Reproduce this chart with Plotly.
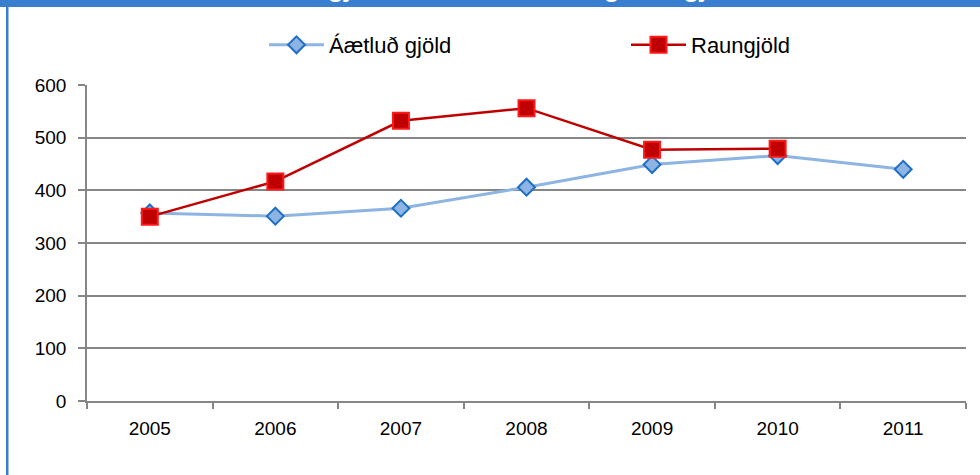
import plotly.graph_objects as go

years = ["2005", "2006", "2007", "2008", "2009", "2010", "2011"]
aaetlud = [357, 351, 366, 406, 449, 466, 440]
raun = [350, 417, 532, 556, 477, 479, None]
y_ticks = [0, 100, 200, 300, 400, 500, 600]
title_text = "Áætluð gjöld árin 2005–2011 og raungjöld"

FONT = "Liberation Sans"
GRID = "#868686"
FRAME = "#3A7FCF"

# plot area geometry (pixels)
L, R, T, B = 87, 14, 85, 74
W, H = 980, 475
PW, PH = W - L - R, H - T - B

def px_x(x):
    return (x - L) / PW

def px_y(y):
    return (H - B - y) / PH

fig = go.Figure()
fig.add_trace(go.Scatter(
    x=years, y=aaetlud, name="Áætluð gjöld", mode="lines+markers",
    line=dict(color="#8DB4E2", width=3),
    marker=dict(symbol="diamond", size=13, color="#8DB4E2",
                line=dict(color="#1F6FC6", width=2)),
    legend="legend", showlegend=True,
))
fig.add_trace(go.Scatter(
    x=years, y=raun, name="Raungjöld", mode="lines+markers",
    line=dict(color="#C00000", width=2.5),
    marker=dict(symbol="square", size=16, color="#C00000",
                line=dict(color="#FF1A1A", width=2)),
    legend="legend2", showlegend=True,
))

fig.update_xaxes(
    type="category", range=[-0.5, 6.5], tickson="boundaries",
    ticks="outside", ticklen=6, tickcolor=GRID, tickwidth=1.5,
    showgrid=False, showline=True, linecolor=GRID, linewidth=1.5,
    tickfont=dict(family=FONT, size=19, color="#000"),
    ticklabelstandoff=9,
)
fig.update_yaxes(
    range=[0, 600], tickvals=y_ticks, ticks="outside", ticklen=7,
    tickcolor=GRID, tickwidth=1.5,
    showgrid=True, gridcolor=GRID, gridwidth=1.5,
    showline=True, linecolor=GRID, linewidth=1.5, zeroline=False,
    tickfont=dict(family=FONT, size=19, color="#000"),
    ticklabelstandoff=8,
)

leg_common = dict(
    orientation="h", xanchor="left", yanchor="middle",
    font=dict(family=FONT, size=22, color="#000"),
    itemwidth=55, bgcolor="rgba(0,0,0,0)",
)

fig.update_layout(
    width=W, height=H,
    showlegend=True,
    margin=dict(l=L, r=R, t=T, b=B),
    plot_bgcolor="white", paper_bgcolor="white",
    font=dict(family=FONT, color="#000"),
    legend=dict(x=px_x(264), y=px_y(45), **leg_common),
    legend2=dict(x=px_x(626), y=px_y(45), **leg_common),
    shapes=[
        dict(type="rect", xref="paper", yref="paper",
             x0=-0.2, x1=1.2, y0=px_y(7), y1=px_y(-20),
             fillcolor=FRAME, line=dict(width=0), layer="above"),
        dict(type="rect", xref="paper", yref="paper",
             x0=px_x(6), x1=px_x(8.5), y0=px_y(H + 20), y1=px_y(-20),
             fillcolor=FRAME, line=dict(width=0), layer="above"),
    ],
    annotations=[
        dict(text="<b>" + title_text + "</b>", xref="paper", yref="paper",
             x=px_x(488), y=px_y(5), xanchor="center", yanchor="bottom",
             showarrow=False, font=dict(family=FONT, size=26, color="white")),
    ],
)

fig.write_html(
    "out.html",
    config={"displayModeBar": False},
    post_script="document.body.style.margin='0';document.body.style.overflow='hidden';",
)
